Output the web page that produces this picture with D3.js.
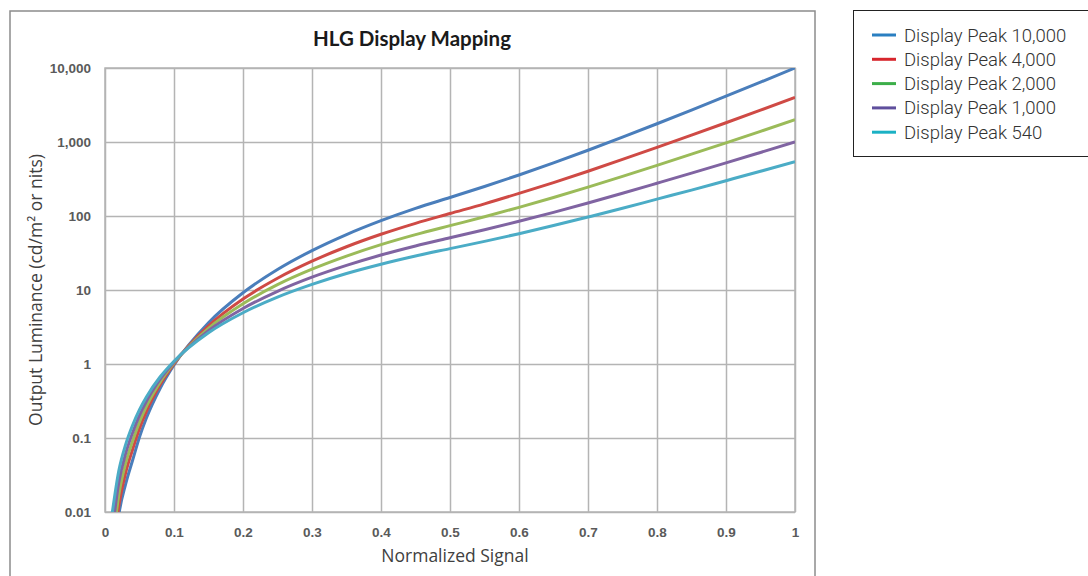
<!DOCTYPE html>
<html>
<head>
<meta charset="utf-8">
<script src="https://cdn.jsdelivr.net/npm/d3@7"></script>
<style>
  body { margin: 0; background: #fff; }
  svg { display: block; }
  .grid line { stroke: #b4b4b4; stroke-width: 1.5; }
  .grid path { display: none; }
  .tick text { font-family: "Liberation Sans", Arial, sans-serif; font-weight: bold; font-size: 13.5px; fill: #5a5a5a; }
</style>
</head>
<body>
<svg id="chart" width="1088" height="576"></svg>
<script>
// normalized signal sample points
const signal = [0.01, 0.02, 0.03, 0.04, 0.05, 0.06, 0.08, 0.1, 0.15, 0.2, 0.25, 0.3, 0.35,
  0.4, 0.45, 0.5, 0.55, 0.6, 0.65, 0.7, 0.75, 0.8, 0.85, 0.9, 0.95, 1];

// output luminance per display peak (cd/m2)
const peak10000 = [0.001, 0.009, 0.024, 0.05, 0.103, 0.186, 0.471, 0.97, 3.61, 9.17, 18.9, 34.1, 56.2,
  86.6, 127, 178, 250, 358, 522, 774, 1163, 1765, 2701, 4159, 6437, 10000];
const peak4000 = [0.002, 0.012, 0.034, 0.07, 0.134, 0.228, 0.527, 1.007, 3.27, 7.55, 14.4, 24.5, 38.4,
  56.6, 79.6, 108, 146, 202, 283, 403, 581, 844, 1237, 1821, 2695, 4000];
const peak2000 = [0.003, 0.017, 0.046, 0.091, 0.165, 0.267, 0.573, 1.036, 3.04, 6.51, 11.8, 19.1, 28.7,
  41.0, 56.0, 74.1, 97.5, 131, 178, 246, 343, 483, 685, 975, 1394, 2000];
const peak1000 = [0.005, 0.025, 0.062, 0.118, 0.202, 0.313, 0.624, 1.065, 2.82, 5.62, 9.61, 14.9, 21.5,
  29.7, 39.4, 50.7, 65.1, 84.8, 112, 150, 203, 277, 379, 522, 722, 1000];
const peak540 = [0.009, 0.036, 0.082, 0.149, 0.242, 0.359, 0.672, 1.092, 2.64, 4.93, 8.01, 11.9, 16.7,
  22.3, 28.8, 36.2, 45.4, 57.7, 74.4, 96.9, 127, 169, 224, 300, 402, 540];

const seriesNames = ['Display Peak 10,000', 'Display Peak 4,000', 'Display Peak 2,000',
  'Display Peak 1,000', 'Display Peak 540'];
const seriesValues = [peak10000, peak4000, peak2000, peak1000, peak540];
const lineColors = ['#4a7ebb', '#cf4a45', '#9bbb59', '#8064a2', '#4bacc6'];
const legendColors = ['#2a7fc1', '#d7262d', '#3cae49', '#5f4f9d', '#1bb1c4'];

const xTicks = [0, 0.1, 0.2, 0.3, 0.4, 0.5, 0.6, 0.7, 0.8, 0.9, 1];
const xTickLabels = ['0', '0.1', '0.2', '0.3', '0.4', '0.5', '0.6', '0.7', '0.8', '0.9', '1'];
const yTicks = [0.01, 0.1, 1, 10, 100, 1000, 10000];
const yTickLabels = ['0.01', '0.1', '1', '10', '100', '1,000', '10,000'];

const svg = d3.select('#chart');
const plot = { left: 105, top: 68, right: 795, bottom: 512 };
const plotW = plot.right - plot.left;
const plotH = plot.bottom - plot.top;

// outer chart frame and legend frame
svg.append('rect')
  .attr('x', 10).attr('y', 11).attr('width', 805).attr('height', 600)
  .attr('fill', 'none').attr('stroke', '#8c8c8c').attr('stroke-width', 1.5);

svg.append('text')
  .attr('x', 412).attr('y', 46)
  .attr('text-anchor', 'middle')
  .style('font-family', 'Lato, "Open Sans", sans-serif')
  .style('font-weight', 'bold')
  .style('font-size', '20.5px')
  .style('fill', '#1a1a1a')
  .text('HLG Display Mapping');

const xScale = d3.scaleLinear().domain([0, 1]).range([0, plotW]);
const yScale = d3.scaleLog().domain([0.01, 10000]).range([plotH, 0]);

const canvas = svg.append('g').attr('transform', `translate(${plot.left},${plot.top})`);

const xAxis = d3.axisBottom(xScale)
  .tickValues(xTicks)
  .tickFormat((d, i) => xTickLabels[i])
  .tickSize(-plotH)
  .tickPadding(15);
const yAxis = d3.axisLeft(yScale)
  .tickValues(yTicks)
  .tickFormat((d, i) => yTickLabels[i])
  .tickSize(-plotW)
  .tickPadding(14);

canvas.append('g').attr('class', 'grid')
  .attr('transform', `translate(0,${plotH})`)
  .call(xAxis);
canvas.append('g').attr('class', 'grid')
  .call(yAxis);

canvas.append('rect')
  .attr('width', plotW).attr('height', plotH)
  .attr('fill', 'none').attr('stroke', '#b4b4b4').attr('stroke-width', 1.5);

canvas.append('clipPath').attr('id', 'plotClip')
  .append('rect').attr('width', plotW).attr('height', plotH);

const line = d3.line()
  .x((d, i) => xScale(signal[i]))
  .y(d => yScale(d))
  .curve(d3.curveMonotoneX);

canvas.append('g').attr('clip-path', 'url(#plotClip)')
  .selectAll('path')
  .data(seriesValues)
  .join('path')
  .attr('d', d => line(d))
  .attr('fill', 'none')
  .attr('stroke', (d, i) => lineColors[i])
  .attr('stroke-width', 3);

// axis titles
svg.append('text')
  .attr('transform', 'translate(42,290) rotate(-90)')
  .attr('text-anchor', 'middle')
  .style('font-family', '"Open Sans", sans-serif')
  .style('font-size', '17.5px')
  .style('fill', '#404040')
  .text('Output Luminance (cd/m² or nits)');

svg.append('text')
  .attr('x', 455).attr('y', 562)
  .attr('text-anchor', 'middle')
  .style('font-family', '"Open Sans", sans-serif')
  .style('font-size', '17.5px')
  .style('fill', '#404040')
  .text('Normalized Signal');

// legend
svg.append('rect')
  .attr('x', 853.5).attr('y', 10.5).attr('width', 240).attr('height', 146)
  .attr('fill', 'none').attr('stroke', '#222').attr('stroke-width', 1);

const legend = svg.append('g').selectAll('g')
  .data(seriesNames)
  .join('g')
  .attr('transform', (d, i) => `translate(872,${35 + i * 24.3})`);

legend.append('line')
  .attr('x1', 0).attr('x2', 24)
  .attr('stroke', (d, i) => legendColors[i])
  .attr('stroke-width', 3);

legend.append('text')
  .attr('x', 32).attr('y', 6.5)
  .style('font-family', 'Roboto, sans-serif')
  .style('font-weight', 300)
  .style('font-size', '18.5px')
  .style('fill', '#333')
  .text(d => d);
</script>
</body>
</html>
